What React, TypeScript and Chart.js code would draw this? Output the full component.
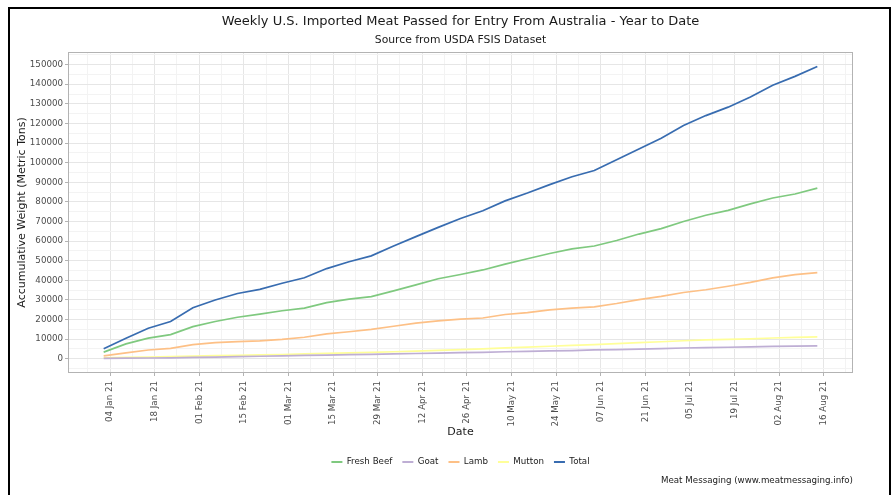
import React, { useEffect, useRef } from "react";
import { Chart, registerables } from "chart.js";

Chart.register(...registerables);

// ---- Data (weekly, year to date) ----
const weekDates = [
  "2021-01-02", "2021-01-09", "2021-01-16", "2021-01-23", "2021-01-30",
  "2021-02-06", "2021-02-13", "2021-02-20", "2021-02-27",
  "2021-03-06", "2021-03-13", "2021-03-20", "2021-03-27",
  "2021-04-03", "2021-04-10", "2021-04-17", "2021-04-24",
  "2021-05-01", "2021-05-08", "2021-05-15", "2021-05-22", "2021-05-29",
  "2021-06-05", "2021-06-12", "2021-06-19", "2021-06-26",
  "2021-07-03", "2021-07-10", "2021-07-17", "2021-07-24", "2021-07-31",
  "2021-08-07", "2021-08-14",
];

const freshBeef = [3400, 7600, 10500, 12300, 16400, 19000, 21200, 22800, 24500, 25800, 28600, 30400, 31700, 34600, 37700, 40800, 43000, 45300, 48300, 51000, 53700, 56000, 57500, 60300, 63600, 66400, 70000, 73200, 75700, 79000, 82000, 84000, 87000];
const goat = [200, 300, 400, 500, 700, 900, 1100, 1300, 1500, 1700, 1900, 2100, 2300, 2500, 2700, 2900, 3100, 3300, 3600, 3800, 4000, 4200, 4500, 4700, 4900, 5200, 5500, 5700, 5900, 6100, 6300, 6500, 6600];
const lamb = [1500, 3000, 4500, 5300, 7200, 8200, 8800, 9100, 9900, 11000, 12700, 13800, 15000, 16600, 18200, 19300, 20200, 20800, 22600, 23500, 24900, 25800, 26500, 28200, 30200, 31800, 33800, 35200, 37000, 39000, 41300, 42900, 43900];
const mutton = [500, 700, 900, 1100, 1400, 1600, 1800, 2000, 2200, 2500, 2800, 3000, 3300, 3600, 3900, 4300, 4700, 5100, 5600, 6000, 6400, 6800, 7200, 7700, 8200, 8700, 9200, 9600, 9900, 10200, 10600, 10900, 11200];
const total = [5100, 10500, 15600, 19000, 26000, 30000, 33300, 35400, 38500, 41300, 46000, 49500, 52500, 57500, 62300, 67000, 71500, 75500, 80500, 84500, 88800, 92800, 96000, 101500, 107000, 112500, 119000, 124000, 128300, 133500, 139500, 144000, 149000];

const seriesNames = ["Fresh Beef", "Goat", "Lamb", "Mutton", "Total"];
const seriesValues = [freshBeef, goat, lamb, mutton, total];
const seriesColors = ["#7FC97F", "#BEAED4", "#FDC086", "#FFFF99", "#386CB0"];

const xTickDates = [
  "2021-01-04", "2021-01-18", "2021-02-01", "2021-02-15", "2021-03-01",
  "2021-03-15", "2021-03-29", "2021-04-12", "2021-04-26", "2021-05-10",
  "2021-05-24", "2021-06-07", "2021-06-21", "2021-07-05", "2021-07-19",
  "2021-08-02", "2021-08-16",
];
const xTickLabels = [
  "04 Jan 21", "18 Jan 21", "01 Feb 21", "15 Feb 21", "01 Mar 21",
  "15 Mar 21", "29 Mar 21", "12 Apr 21", "26 Apr 21", "10 May 21",
  "24 May 21", "07 Jun 21", "21 Jun 21", "05 Jul 21", "19 Jul 21",
  "02 Aug 21", "16 Aug 21",
];
const yTickValues = [0, 10000, 20000, 30000, 40000, 50000, 60000, 70000, 80000, 90000, 100000, 110000, 120000, 130000, 140000, 150000];
const yTickLabels = ["0", "10000", "20000", "30000", "40000", "50000", "60000", "70000", "80000", "90000", "100000", "110000", "120000", "130000", "140000", "150000"];

const TITLE = "Weekly U.S. Imported Meat Passed for Entry From Australia - Year to Date";
const SUBTITLE = "Source from USDA FSIS Dataset";
const X_TITLE = "Date";
const Y_TITLE = "Accumulative Weight (Metric Tons)";
const CAPTION = "Meat Messaging (www.meatmessaging.info)";

// ---- helpers ----
const DAY = 86400000;
const ORIGIN = Date.parse("2021-01-04");
const dayOf = (s: string) => Math.round((Date.parse(s) - ORIGIN) / DAY);

const FONT = "'DejaVu Sans', sans-serif";
const TEXT_DARK = "#1a1a1a";
const TEXT_AXIS = "#4d4d4d";
const BORDER = "#b3b3b3";
const GRID_MAJOR = "#e6e6e6";
const GRID_MINOR = "#f3f3f3";

export default function App() {
  const canvasRef = useRef<HTMLCanvasElement | null>(null);

  useEffect(() => {
    if (!canvasRef.current) return;

    const xs = weekDates.map(dayOf);
    const xMajor = xTickDates.map(dayOf);
    const xMin0 = Math.min(...xs);
    const xMax0 = Math.max(...xs);
    const xPad = (xMax0 - xMin0) * 0.05;
    const xMin = xMin0 - xPad;
    const xMax = xMax0 + xPad;
    const xStepHalf = (xMajor[1] - xMajor[0]) / 2;
    const xAll: number[] = [];
    for (let i = 0; i < xMajor.length; i++) {
      xAll.push(xMajor[i] - xStepHalf, xMajor[i]);
    }
    xAll.push(xMajor[xMajor.length - 1] + xStepHalf);
    const xTicksAll = xAll.filter((v) => v >= xMin && v <= xMax);

    const allVals = seriesValues.flat();
    const yMin0 = Math.min(...allVals);
    const yMax0 = Math.max(...allVals);
    const yPad = (yMax0 - yMin0) * 0.05;
    const yMin = yMin0 - yPad;
    const yMax = yMax0 + yPad;
    const yStepHalf = (yTickValues[1] - yTickValues[0]) / 2;
    const yAll: number[] = [];
    for (let i = 0; i < yTickValues.length; i++) {
      yAll.push(yTickValues[i] - yStepHalf, yTickValues[i]);
    }
    yAll.push(yTickValues[yTickValues.length - 1] + yStepHalf);
    const yTicksAll = yAll.filter((v) => v >= yMin && v <= yMax);

    const isXMajor = (v: number) => xMajor.indexOf(v) >= 0;
    const isYMajor = (v: number) => yTickValues.indexOf(v) >= 0;

    const panelPlugin = {
      id: "panelAndCaption",
      afterDatasetsDraw(chart: any) {
        const { ctx, chartArea } = chart;
        ctx.save();
        ctx.strokeStyle = BORDER;
        ctx.lineWidth = 1;
        ctx.strokeRect(
          Math.round(chartArea.left) + 0.5,
          Math.round(chartArea.top) + 0.5,
          Math.round(chartArea.right - chartArea.left) - 1,
          Math.round(chartArea.bottom - chartArea.top) - 1
        );
        ctx.restore();
      },
      afterDraw(chart: any) {
        const { ctx, chartArea } = chart;
        ctx.save();
        ctx.font = `8.7px ${FONT}`;
        ctx.fillStyle = TEXT_DARK;
        ctx.textAlign = "right";
        ctx.textBaseline = "middle";
        ctx.fillText(CAPTION, chartArea.right, 472);
        ctx.restore();
      },
    };

    const chart = new Chart(canvasRef.current, {
      type: "line",
      data: {
        datasets: seriesNames.map((name, si) => ({
          label: name,
          data: seriesValues[si].map((v, i) => ({ x: xs[i], y: v })),
          borderColor: seriesColors[si],
          backgroundColor: seriesColors[si],
          borderWidth: 1.7,
          pointRadius: 0,
          tension: 0,
          fill: false,
        })),
      },
      options: {
        animation: false,
        responsive: false,
        devicePixelRatio: 1,
        layout: { padding: { left: 0, right: 36, top: 0, bottom: 18.65 } },
        font: { family: FONT },
        scales: {
          x: {
            type: "linear",
            min: xMin,
            max: xMax,
            afterBuildTicks: (scale: any) => {
              scale.ticks = xTicksAll.map((v) => ({ value: v }));
            },
            afterFit: (scale: any) => {
              scale.height = 74.65;
            },
            ticks: {
              autoSkip: false,
              minRotation: 90,
              maxRotation: 90,
              padding: 5,
              color: TEXT_AXIS,
              font: { family: FONT, size: 8.7 },
              callback: (value: any) => {
                const i = xMajor.indexOf(value);
                return i >= 0 ? xTickLabels[i] : "";
              },
            },
            grid: {
              color: (c: any) => (c.tick && isXMajor(c.tick.value) ? GRID_MAJOR : GRID_MINOR),
              tickColor: (c: any) => (c.tick && isXMajor(c.tick.value) ? BORDER : "rgba(0,0,0,0)"),
              tickLength: 3,
              lineWidth: 1,
            },
            border: { display: false },
            title: {
              display: true,
              text: X_TITLE,
              color: TEXT_DARK,
              font: { family: FONT, size: 11 },
              padding: { top: 0, bottom: 9.05 },
            },
          },
          y: {
            type: "linear",
            min: yMin,
            max: yMax,
            afterBuildTicks: (scale: any) => {
              scale.ticks = yTicksAll.map((v) => ({ value: v }));
            },
            afterFit: (scale: any) => {
              scale.width = 58;
            },
            ticks: {
              autoSkip: false,
              padding: 2,
              color: TEXT_AXIS,
              font: { family: FONT, size: 8.7 },
              callback: (value: any) => {
                const i = yTickValues.indexOf(value);
                return i >= 0 ? yTickLabels[i] : "";
              },
            },
            grid: {
              color: (c: any) => (c.tick && isYMajor(c.tick.value) ? GRID_MAJOR : GRID_MINOR),
              tickColor: (c: any) => (c.tick && isYMajor(c.tick.value) ? BORDER : "rgba(0,0,0,0)"),
              tickLength: 3,
              lineWidth: 1,
            },
            border: { display: false },
            title: {
              display: true,
              text: Y_TITLE,
              color: TEXT_DARK,
              font: { family: FONT, size: 11 },
              padding: { top: 5.4, bottom: 0 },
            },
          },
        },
        plugins: {
          title: {
            display: true,
            text: TITLE,
            fullSize: false,
            color: TEXT_DARK,
            font: { family: FONT, size: 13, weight: "normal" },
            padding: { top: 5, bottom: 2 },
          },
          subtitle: {
            display: true,
            text: SUBTITLE,
            fullSize: false,
            color: TEXT_DARK,
            font: { family: FONT, size: 10.8, weight: "normal" },
            padding: { top: 2, bottom: 5.4 },
          },
          legend: {
            position: "bottom",
            fullSize: false,
            labels: {
              boxWidth: 11,
              boxHeight: 2,
              padding: 10,
              color: TEXT_DARK,
              font: { family: FONT, size: 8.7 },
              generateLabels: (ch: any) =>
                (Chart.defaults.plugins.legend.labels.generateLabels as any)(ch).map((l: any) => ({
                  ...l,
                  lineWidth: 0,
                })),
            },
          },
          tooltip: { enabled: false },
        },
      } as any,
      plugins: [panelPlugin],
    });

    return () => chart.destroy();
  }, []);

  return (
    <div
      style={{
        position: "absolute",
        left: 8,
        top: 7,
        width: 883,
        height: 488,
        borderTop: "2px solid #000",
        borderLeft: "2px solid #000",
        borderRight: "2px solid #000",
        boxSizing: "border-box",
        background: "#fff",
      }}
    >
      <canvas ref={canvasRef} width={879} height={486} style={{ display: "block" }} />
    </div>
  );
}
